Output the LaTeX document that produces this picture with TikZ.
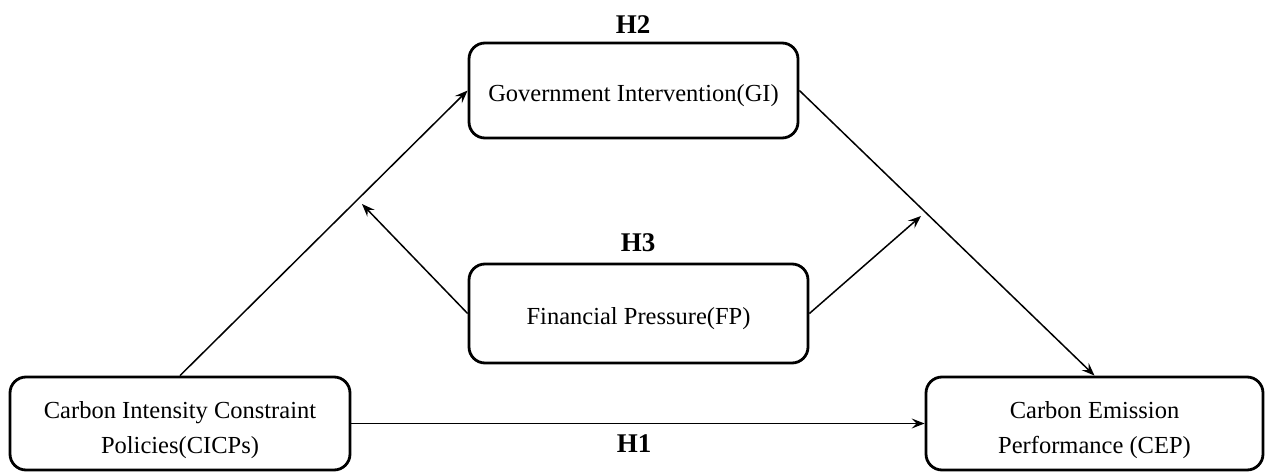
\documentclass[tikz,border=0pt]{standalone}
\usepackage{fontspec}
\setmainfont{Liberation Serif}
\usetikzlibrary{arrows.meta}
\begin{document}
\begin{tikzpicture}[x=1pt,y=-1pt,
  box/.style={draw, line width=2.8pt, rounded corners=16pt, inner sep=0pt,
    font=\fontsize{24.5}{35}\selectfont},
  onebox/.style={box, text height=27pt, text depth=5pt},
  twobox/.style={box, text height=23pt, text depth=34pt},
  conn/.style={line width=1.5pt, -{Stealth[length=13pt,width=10pt,inset=5pt]}},
  hlabel/.style={font=\fontsize{27}{30}\selectfont\bfseries}]
\useasboundingbox (0,0) rectangle (1266,473);
\node[onebox, minimum width=329pt, minimum height=95pt] (GI) at (633.5,90.5) {Government Intervention(GI)};
\node[onebox, minimum width=339pt, minimum height=99pt] (FP) at (638.5,313.5) {Financial Pressure(FP)};
\node[twobox, minimum width=340pt, minimum height=93pt] (CICP) at (180,423.5) {\begin{tabular}[t]{@{}c@{}}Carbon Intensity Constraint\\Policies(CICPs)\end{tabular}};
\node[twobox, minimum width=337pt, minimum height=93pt] (CEP) at (1094.5,423.5) {\begin{tabular}[t]{@{}c@{}}Carbon Emission\\Performance (CEP)\end{tabular}};
\node[hlabel] (H2) at (633,25) {H2};
\node[hlabel] (H3) at (638,243) {H3};
\node[hlabel] (H1) at (634,444) {H1};
\coordinate (m1) at (362,204);
\coordinate (m2) at (921,216);
\draw[conn] (CICP.north) -- (GI.west);
\draw[conn] (GI.east) -- (CEP.north);
\draw[conn] (CICP.east) -- (CEP.west);
\draw[conn] (FP.west) -- (m1);
\draw[conn] (FP.east) -- (m2);
\end{tikzpicture}
\end{document}
